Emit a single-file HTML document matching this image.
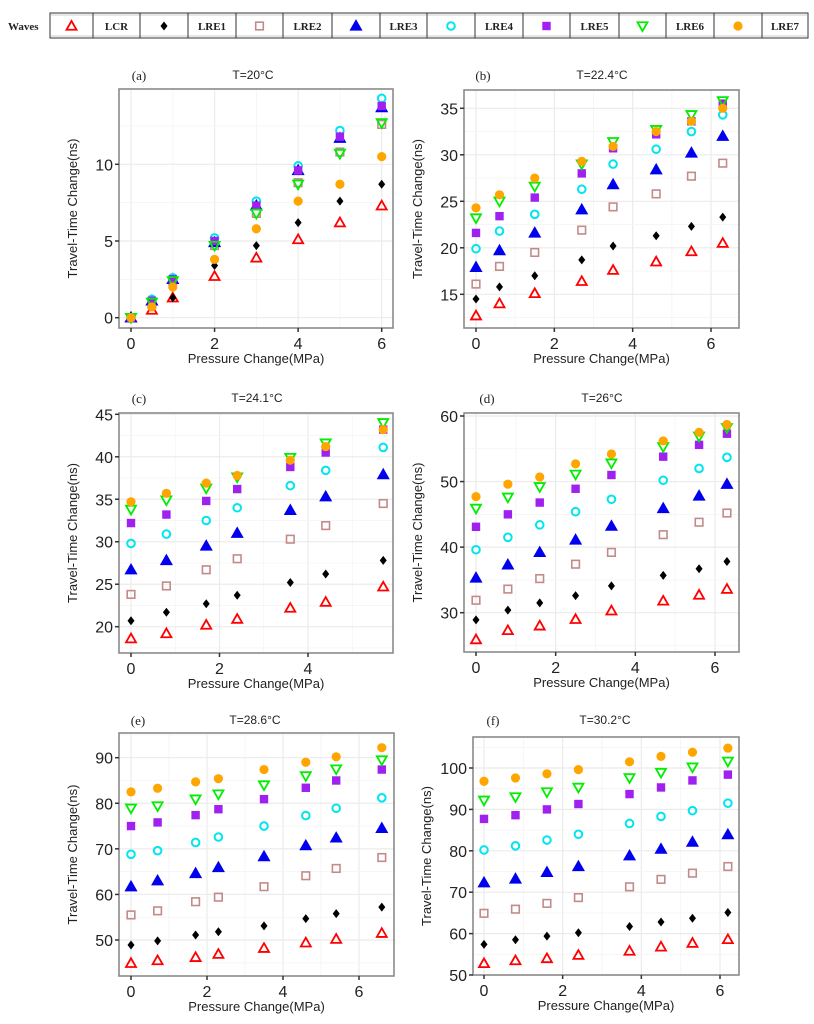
<!DOCTYPE html>
<html><head><meta charset="utf-8">
<style>
body{margin:0;background:#fff;width:814px;height:1024px;overflow:hidden;}
svg{display:block;}
</style></head>
<body>
<svg id="fig" width="814" height="1024" xmlns="http://www.w3.org/2000/svg"></svg>
<script>
const seriesNames = ['LCR','LRE1','LRE2','LRE3','LRE4','LRE5','LRE6','LRE7'];
const seriesColors = ['#ff0000','#000000','#c48a8a','#0000ee','#00e5ee','#a020f0','#00ee00','#ffa500'];
const seriesShapes = ['tri-open','diamond','square-open','tri','circle-open','square','tri-down-open','circle'];

const xA = [0,0.5,1,2,3,4,5,6];
const a_LCR = [0,0.5,1.3,2.7,3.9,5.1,6.2,7.3];
const a_LRE1 = [0,0.8,1.3,3.4,4.7,6.2,7.6,8.7];
const a_LRE2 = [0,0.9,2.4,4.7,6.8,8.8,10.8,12.6];
const a_LRE3 = [0,1.1,2.5,4.9,7.3,9.6,11.7,13.7];
const a_LRE4 = [0,1.2,2.6,5.2,7.6,9.9,12.2,14.3];
const a_LRE5 = [0,1.1,2.5,5.0,7.3,9.6,11.8,13.8];
const a_LRE6 = [0,1.0,2.4,4.7,6.8,8.7,10.7,12.7];
const a_LRE7 = [0,0.7,2.0,3.8,5.8,7.6,8.7,10.5];

const xB = [0,0.6,1.5,2.7,3.5,4.6,5.5,6.3];
const b_LCR = [12.7,14.0,15.1,16.4,17.6,18.5,19.6,20.5];
const b_LRE1 = [14.5,15.8,17.0,18.7,20.2,21.3,22.3,23.3];
const b_LRE2 = [16.1,18.0,19.5,21.9,24.4,25.8,27.7,29.1];
const b_LRE3 = [17.9,19.7,21.6,24.1,26.8,28.4,30.2,32.0];
const b_LRE4 = [19.9,21.8,23.6,26.3,29.0,30.6,32.5,34.3];
const b_LRE5 = [21.6,23.4,25.4,28.0,30.7,32.2,33.6,35.5];
const b_LRE6 = [23.2,25.0,26.6,29.0,31.4,32.7,34.3,35.8];
const b_LRE7 = [24.3,25.7,27.5,29.3,30.9,32.5,33.6,35.0];

const xC = [0,0.8,1.7,2.4,3.6,4.4,5.7];
const c_LCR = [18.6,19.2,20.2,20.9,22.2,22.9,24.7];
const c_LRE1 = [20.7,21.7,22.7,23.7,25.2,26.2,27.8];
const c_LRE2 = [23.8,24.8,26.7,28.0,30.3,31.9,34.5];
const c_LRE3 = [26.7,27.8,29.5,31.0,33.7,35.3,37.9];
const c_LRE4 = [29.8,30.9,32.5,34.0,36.6,38.4,41.1];
const c_LRE5 = [32.2,33.2,34.8,36.2,38.8,40.5,43.2];
const c_LRE6 = [33.8,34.9,36.3,37.6,39.9,41.6,44.0];
const c_LRE7 = [34.7,35.7,36.9,37.8,39.6,41.2,43.2];

const xD = [0,0.8,1.6,2.5,3.4,4.7,5.6,6.3];
const d_LCR = [25.9,27.3,28.0,29.0,30.3,31.8,32.7,33.6];
const d_LRE1 = [28.9,30.4,31.5,32.6,34.1,35.7,36.7,37.8];
const d_LRE2 = [31.9,33.6,35.2,37.4,39.2,41.9,43.8,45.2];
const d_LRE3 = [35.3,37.3,39.2,41.1,43.2,45.9,47.8,49.6];
const d_LRE4 = [39.6,41.5,43.4,45.4,47.3,50.2,52.0,53.7];
const d_LRE5 = [43.1,45.0,46.8,48.9,51.0,53.8,55.6,57.3];
const d_LRE6 = [45.9,47.6,49.2,51.1,52.8,55.3,56.9,58.2];
const d_LRE7 = [47.7,49.6,50.7,52.7,54.2,56.2,57.5,58.7];

const xE = [0,0.7,1.7,2.3,3.5,4.6,5.4,6.6];
const e_LCR = [44.9,45.5,46.2,46.9,48.2,49.4,50.2,51.5];
const e_LRE1 = [48.9,49.8,51.1,51.8,53.1,54.7,55.8,57.2];
const e_LRE2 = [55.5,56.4,58.4,59.4,61.7,64.1,65.7,68.1];
const e_LRE3 = [61.7,63.0,64.6,65.9,68.3,70.7,72.4,74.5];
const e_LRE4 = [68.8,69.6,71.4,72.6,75.0,77.3,78.9,81.2];
const e_LRE5 = [75.0,75.8,77.4,78.7,80.9,83.4,85.0,87.4];
const e_LRE6 = [78.9,79.4,80.9,82.0,84.0,86.0,87.5,89.5];
const e_LRE7 = [82.5,83.3,84.7,85.4,87.4,89.0,90.2,92.2];

const xF = [0,0.8,1.6,2.4,3.7,4.5,5.3,6.2];
const f_LCR = [52.8,53.5,54.0,54.8,55.8,56.8,57.7,58.6];
const f_LRE1 = [57.4,58.5,59.4,60.2,61.7,62.8,63.7,65.1];
const f_LRE2 = [64.9,65.9,67.3,68.7,71.3,73.1,74.6,76.2];
const f_LRE3 = [72.3,73.2,74.8,76.2,78.8,80.4,82.1,83.9];
const f_LRE4 = [80.2,81.2,82.6,84.0,86.6,88.3,89.7,91.5];
const f_LRE5 = [87.7,88.6,90.0,91.3,93.7,95.3,97.0,98.4];
const f_LRE6 = [92.2,93.0,94.2,95.3,97.6,98.9,100.2,101.6];
const f_LRE7 = [96.8,97.6,98.6,99.6,101.5,102.8,103.8,104.8];

const xTicks = [0,2,4,6];
const yTicksA = [0,5,10];
const yTicksB = [15,20,25,30,35];
const yTicksC = [20,25,30,35,40,45];
const yTicksD = [30,40,50,60];
const yTicksE = [50,60,70,80,90];
const yTicksF = [50,60,70,80,90,100];
const panelLetters = ['(a)','(b)','(c)','(d)','(e)','(f)'];
const panelTitles = ['T=20°C','T=22.4°C','T=24.1°C','T=26°C','T=28.6°C','T=30.2°C'];

const NS='http://www.w3.org/2000/svg';
const svg=document.getElementById('fig');
function mk(tag,attrs,parent){const e=document.createElementNS(NS,tag);for(const k in attrs)e.setAttribute(k,attrs[k]);(parent||svg).appendChild(e);return e;}

// layout: frame + axis anchors (value,pixel pairs)
const panels=[
 {xs:xA,ys:[a_LCR,a_LRE1,a_LRE2,a_LRE3,a_LRE4,a_LRE5,a_LRE6,a_LRE7],yt:yTicksA,yminor:2.5,
  fr:[119,89,393,328],xa:[0,131,6,381.7],ya:[0,317.7,10,164.3],lx:139,tx:253,ty:75},
 {xs:xB,ys:[b_LCR,b_LRE1,b_LRE2,b_LRE3,b_LRE4,b_LRE5,b_LRE6,b_LRE7],yt:yTicksB,yminor:2.5,
  fr:[464,90,739,328],xa:[0,476,6,711],ya:[15,294.3,35,108.3],lx:483,tx:602,ty:75},
 {xs:xC,ys:[c_LCR,c_LRE1,c_LRE2,c_LRE3,c_LRE4,c_LRE5,c_LRE6,c_LRE7],yt:yTicksC,yminor:2.5,
  fr:[119,413,393,653],xa:[0,131,4,308],ya:[20,626.7,45,414.3],lx:139,tx:257,ty:398},
 {xs:xD,ys:[d_LCR,d_LRE1,d_LRE2,d_LRE3,d_LRE4,d_LRE5,d_LRE6,d_LRE7],yt:yTicksD,yminor:5,
  fr:[464,413,739,652],xa:[0,476,6,715],ya:[30,612.7,60,416],lx:487,tx:602,ty:398},
 {xs:xE,ys:[e_LCR,e_LRE1,e_LRE2,e_LRE3,e_LRE4,e_LRE5,e_LRE6,e_LRE7],yt:yTicksE,yminor:5,
  fr:[119,733,394,976],xa:[0,131,6,359],ya:[50,940,90,757.7],lx:138,tx:255,ty:720},
 {xs:xF,ys:[f_LCR,f_LRE1,f_LRE2,f_LRE3,f_LRE4,f_LRE5,f_LRE6,f_LRE7],yt:yTicksF,yminor:5,
  fr:[473,737,739,975],xa:[0,484,6,720],ya:[50,975,100,768],lx:493,tx:605,ty:720}
];

function marker(g,shape,cx,cy,col){
  const s=5, sw=1.8;
  let e;
  if(shape==='tri-open'||shape==='tri'){
    e=mk('polygon',{points:`${cx},${cy-s} ${cx-s},${cy+s*0.75} ${cx+s},${cy+s*0.75}`,fill:shape==='tri'?col:'none',stroke:col,'stroke-width':sw},g);
  }else if(shape==='tri-down-open'){
    e=mk('polygon',{points:`${cx},${cy+s} ${cx-s},${cy-s*0.75} ${cx+s},${cy-s*0.75}`,fill:'none',stroke:col,'stroke-width':sw},g);
  }else if(shape==='diamond'){
    e=mk('polygon',{points:`${cx},${cy-4.5} ${cx-3.5},${cy} ${cx},${cy+4.5} ${cx+3.5},${cy}`,fill:col},g);
  }else if(shape==='square-open'||shape==='square'){
    const h=shape==='square'?4.2:3.8;
    e=mk('rect',{x:cx-h,y:cy-h,width:2*h,height:2*h,fill:shape==='square'?col:'none',stroke:col,'stroke-width':shape==='square'?0:1.6},g);
  }else if(shape==='circle-open'){
    e=mk('circle',{cx:cx,cy:cy,r:3.8,fill:'none',stroke:col,'stroke-width':2},g);
  }else{
    e=mk('circle',{cx:cx,cy:cy,r:4.6,fill:col},g);
  }
  return e;
}

panels.forEach((p,pi)=>{
  const g=mk('g',{});
  
  
  const X=v=>p.xa[1]+(v-p.xa[0])*(p.xa[3]-p.xa[1])/(p.xa[2]-p.xa[0]);
  const Y=v=>p.ya[1]+(v-p.ya[0])*(p.ya[3]-p.ya[1])/(p.ya[2]-p.ya[0]);
  const Xi=px=>p.xa[0]+(px-p.xa[1])*(p.xa[2]-p.xa[0])/(p.xa[3]-p.xa[1]);
  const Yi=py=>p.ya[0]+(py-p.ya[1])*(p.ya[2]-p.ya[0])/(p.ya[3]-p.ya[1]);
  const [x0,y0,x1,y1]=p.fr;
  // gridlines
  const xmin=Xi(x0), xmax=Xi(x1), ymin=Yi(y1), ymax=Yi(y0);
  for(let v=Math.ceil(xmin);v<=xmax;v+=1){
    const gl=mk('line',{x1:X(v),x2:X(v),y1:y0,y2:y1,stroke:v%2===0?'#ebebeb':'#f4f4f4','stroke-width':v%2===0?1.2:0.8},g);
    
    
  }
  const st=p.yminor;
  for(let v=Math.ceil(ymin/st)*st;v<=ymax;v+=st){
    const major=p.yt.includes(v);
    const gl=mk('line',{x1:x0,x2:x1,y1:Y(v),y2:Y(v),stroke:major?'#ebebeb':'#f4f4f4','stroke-width':major?1.2:0.8},g);
    
    
  }
  // points
  p.ys.forEach((arr,si)=>{
    const sg=mk('g',{},g);
    
    
    arr.forEach((v,i)=>{
      const m=marker(sg,seriesShapes[si],X(p.xs[i]),Y(v),seriesColors[si]);
      
      
    });
  });
  const fr=mk('rect',{x:x0,y:y0,width:x1-x0,height:y1-y0,fill:'none',stroke:'#8a8a8a','stroke-width':1.6},g);
  
  
  // x ticks
  xTicks.forEach(v=>{
    if(X(v)>x1) return;
    const t=mk('line',{x1:X(v),x2:X(v),y1:y1,y2:y1+4,stroke:'#333','stroke-width':1.5},g);
    
    
    const l=mk('text',{x:X(v),y:y1+21,'text-anchor':'middle','font-size':16,fill:'#222','font-family':'Liberation Sans, sans-serif'},g);
    l.textContent=v;
    
    
  });
  p.yt.forEach(v=>{
    const t=mk('line',{x1:x0-4,x2:x0,y1:Y(v),y2:Y(v),stroke:'#333','stroke-width':1.5},g);
    
    
    const l=mk('text',{x:x0-6,y:Y(v)+6,'text-anchor':'end','font-size':16,fill:'#222','font-family':'Liberation Sans, sans-serif'},g);
    l.textContent=v;
    
    
  });
  const xt=mk('text',{x:(x0+x1)/2,y:y1+35,'text-anchor':'middle','font-size':13,fill:'#222','font-family':'Liberation Sans, sans-serif'},g);
  xt.textContent='Pressure Change(MPa)';
  
  
  const yx=x0-42, yc=(y0+y1)/2;
  const yt=mk('text',{x:yx,y:yc,'text-anchor':'middle','font-size':13,fill:'#222','font-family':'Liberation Sans, sans-serif',transform:`rotate(-90 ${yx} ${yc})`},g);
  yt.textContent='Travel-Time Change(ns)';
  
  
  const lt=mk('text',{x:p.lx,y:p.ty+5,'text-anchor':'middle','font-size':13,fill:'#222','font-family':'Liberation Serif, serif'},g);
  lt.textContent=panelLetters[pi];
  
  
  const tt=mk('text',{x:p.tx,y:p.ty+4,'text-anchor':'middle','font-size':12,fill:'#222','font-family':'Liberation Sans, sans-serif'},g);
  tt.textContent=panelTitles[pi];
  
  
});

// legend
const lg=mk('g',{});


const wt=mk('text',{x:8,y:30,'font-size':11,'font-weight':'bold',fill:'#222','font-family':'Liberation Serif, serif'},lg);
wt.textContent='Waves';


const lb=mk('rect',{x:50,y:13,width:758,height:25,fill:'none',stroke:'#333','stroke-width':1},lg);


mk('line',{x1:50,x2:808,y1:15,y2:15,stroke:'#999','stroke-width':0.6},lg);
mk('line',{x1:50,x2:808,y1:36,y2:36,stroke:'#999','stroke-width':0.6},lg);
const divs=[93,140,188,236,283,332,380,427,475,523,570,619,666,714,762];
divs.forEach(d=>mk('line',{x1:d,x2:d,y1:13,y2:38,stroke:'#333','stroke-width':1},lg));
const edges=[50].concat(divs).concat([808]);
seriesNames.forEach((n,i)=>{
  const eg=mk('g',{},lg);
  
  
  const mc=(edges[2*i]+edges[2*i+1])/2;
  marker(eg,seriesShapes[i],mc,26,seriesColors[i]);
  const tc=(edges[2*i+1]+edges[2*i+2])/2;
  const t=mk('text',{x:tc,y:30,'text-anchor':'middle','font-size':11,'font-weight':'bold',fill:'#222','font-family':'Liberation Serif, serif'},eg);
  t.textContent=n;
});
</script>
</body></html>
